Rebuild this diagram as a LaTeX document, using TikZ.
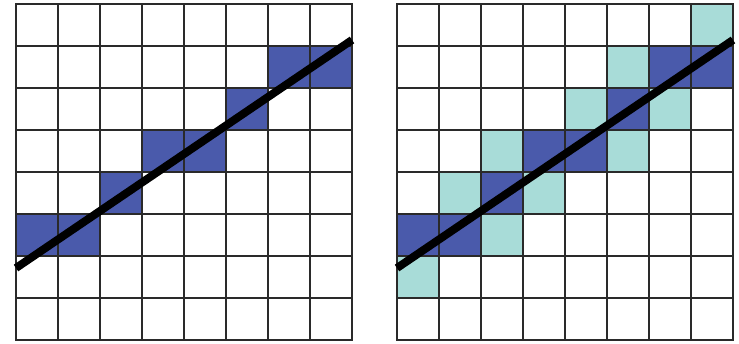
\documentclass[tikz,border=0pt]{standalone}
\definecolor{darkcell}{HTML}{4A5AAB}
\definecolor{lightcell}{HTML}{A8DCD8}
\definecolor{gridc}{HTML}{2A2A2A}
\tikzset{
  gridline/.style={draw=gridc,line width=1.6pt},
  dk/.style={fill=darkcell},
  lt/.style={fill=lightcell},
  rasterline/.style={draw=black,line width=8pt}
}
\newcommand{\cellat}[4]{% x0, row, col, style
  \fill[#4] ({#1+#3*42},{4+#2*42}) rectangle ++(42,42);}
\newcommand{\gridat}[1]{%
  \foreach \i in {0,...,8}{
    \draw[gridline] ({#1+\i*42},4) -- ({#1+\i*42},340);
    \draw[gridline] (#1,{4+\i*42}) -- ({#1+336},{4+\i*42});
  }
  \draw[gridline] (#1,4) rectangle ({#1+336},340);}
\begin{document}
\begin{tikzpicture}[x=1pt,y=-1pt]
\useasboundingbox (0,0) rectangle (739,344);
\fill[white] (0,0) rectangle (739,344);
% left grid cells
\foreach \r/\c in {1/6,1/7,2/5,3/3,3/4,4/2,5/0,5/1}{\cellat{16}{\r}{\c}{dk}}
% right grid cells
\foreach \r/\c in {1/6,1/7,2/5,3/3,3/4,4/2,5/0,5/1}{\cellat{397}{\r}{\c}{dk}}
\foreach \r/\c in {0/7,1/5,2/4,2/6,3/2,3/5,4/1,4/3,5/2,6/0}{\cellat{397}{\r}{\c}{lt}}
% grids
\gridat{16}
\gridat{397}
% lines
\coordinate (la) at (16,268);
\coordinate (lb) at (352,40);
\coordinate (ra) at (397,268);
\coordinate (rb) at (733,40);
\draw[rasterline] (la) -- (lb);
\draw[rasterline] (ra) -- (rb);
\end{tikzpicture}
\end{document}
